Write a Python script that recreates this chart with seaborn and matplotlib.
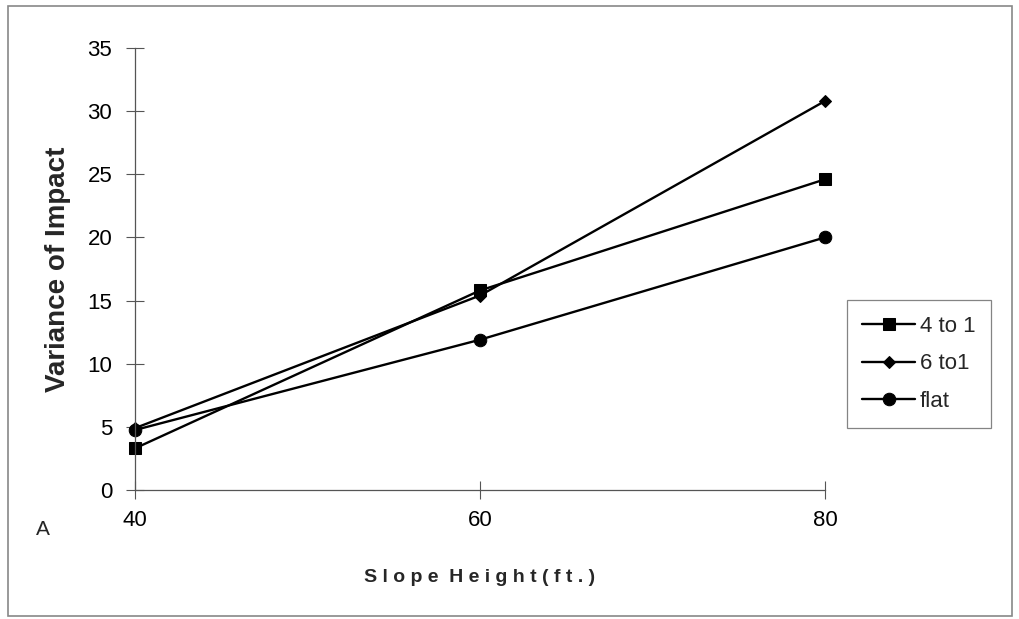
import pandas as pd
import matplotlib.pyplot as plt
import seaborn as sns
from matplotlib.patches import Rectangle

heights = [40, 60, 80]
slope_4to1 = [3.3, 15.8, 24.6]
slope_6to1 = [4.9, 15.4, 30.8]
slope_flat = [4.75, 11.9, 20.0]
series_names = ["4 to 1", "6 to1", "flat"]
y_ticks = [0, 5, 10, 15, 20, 25, 30, 35]

df = pd.DataFrame({
    "Slope Height": heights * 3,
    "Variance": slope_4to1 + slope_6to1 + slope_flat,
    "Slope": [n for n in series_names for _ in heights],
})

sns.set_style("white")
plt.rcParams["font.family"] = ["Liberation Sans", "DejaVu Sans"]

fig = plt.figure(figsize=(10.2, 6.19), dpi=100)
ax = fig.add_axes([0.1324, 0.2084, 0.6764, 0.7141])

sns.lineplot(data=df, x="Slope Height", y="Variance", style="Slope",
             markers={"4 to 1": "s", "6 to1": "D", "flat": "o"},
             dashes=False, color="black", linewidth=1.7,
             markersize=9, markeredgecolor="black", ax=ax)
for line in ax.lines:
    line.set_clip_on(False)
    line.set_markeredgecolor("black")
    if line.get_marker() == "D":
        line.set_markersize(6.5)

handles, labels = ax.get_legend_handles_labels()
ax.get_legend().remove()

ax.set_xlim(40, 80)
ax.set_ylim(0, 35)
ax.set_xticks(heights)
ax.set_yticks(y_ticks)
ax.tick_params(axis="both", bottom=True, left=True, direction="inout", length=13, width=0.8,
               colors="#555555", labelcolor="black", labelsize=16)
ax.tick_params(axis="x", pad=8)
ax.tick_params(axis="y", pad=10)
for side in ["top", "right"]:
    ax.spines[side].set_visible(False)
for side in ["left", "bottom"]:
    ax.spines[side].set_color("#555555")
    ax.spines[side].set_linewidth(0.9)

ax.set_xlabel("S l o p e  H e i g h t ( f t . )", fontsize=14, fontweight="bold", labelpad=27)
ax.set_ylabel("Variance of Impact", fontsize=20, fontweight="bold", labelpad=12)

for h in handles:
    h.set_markeredgecolor("black")
leg = fig.legend(handles, labels, loc="upper left",
                 bbox_to_anchor=(0.830, 0.515),
                 fontsize=16, frameon=True, fancybox=False, edgecolor="#666666",
                 handlelength=2.4, handletextpad=0.2, labelspacing=0.75,
                 borderpad=0.7, borderaxespad=0.0)
leg.get_frame().set_linewidth(0.9)

fig.text(0.035, 0.135, "A", fontsize=15)
fig.patches.append(Rectangle((0.008, 0.005), 0.984, 0.985, transform=fig.transFigure,
                             fill=False, edgecolor="#888888", linewidth=1.2))

fig.savefig("out.png", dpi=100)
